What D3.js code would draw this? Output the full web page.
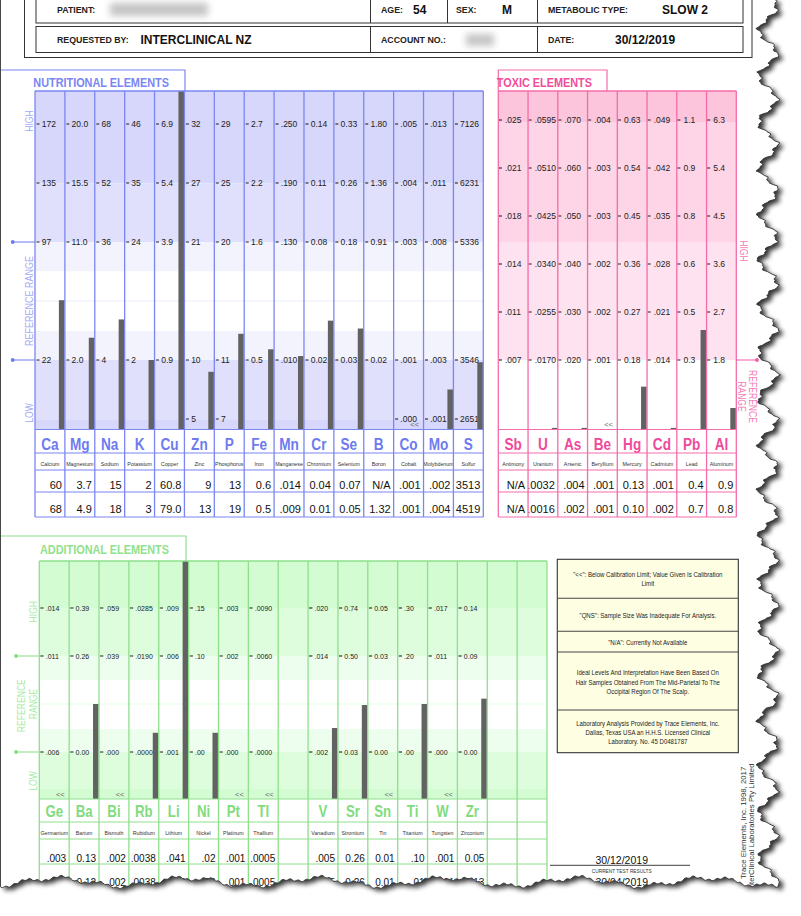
<!DOCTYPE html>
<html>
<head>
<meta charset="utf-8">
<title>Hair mineral analysis chart</title>
<script src="https://d3js.org/d3.v7.min.js"></script>
<style>
  body { margin: 0; background: #fff; }
  svg { display: block; font-family: "Liberation Sans", Arial, sans-serif; }
</style>
</head>
<body>
<svg width="801" height="916"></svg>
<script>
// ---------- data ----------
const headerLabels = ['PATIENT:', 'AGE:', 'SEX:', 'METABOLIC TYPE:', 'REQUESTED BY:', 'ACCOUNT NO.:', 'DATE:'];
const headerValues = ['', '54', 'M', 'SLOW 2', 'INTERCLINICAL NZ', '', '30/12/2019'];

const nutriSymbols = ['Ca','Mg','Na','K','Cu','Zn','P','Fe','Mn','Cr','Se','B','Co','Mo','S'];
const nutriNames = ['Calcium','Magnesium','Sodium','Potassium','Copper','Zinc','Phosphorus','Iron',
  'Manganese','Chromium','Selenium','Boron','Cobalt','Molybdenum','Sulfur'];
// labels from HIGH down to LOW
const nutriTicks = [
  ['172','135','97','22',''], ['20.0','15.5','11.0','2.0',''], ['68','52','36','4',''],
  ['46','35','24','2',''], ['6.9','5.4','3.9','0.9',''], ['32','27','21','10','5'],
  ['29','25','20','11','7'], ['2.7','2.2','1.6','0.5',''], ['.250','.190','.130','.010',''],
  ['0.14','0.11','0.08','0.02',''], ['0.33','0.26','0.18','0.03',''], ['1.80','1.36','0.91','0.02',''],
  ['.005','.004','.003','.001','.000'], ['.013','.011','.008','.003','.001'], ['7126','6231','5336','3546','2651']
];
const nutriCurrent = ['60','3.7','15','2','60.8','9','13','0.6','.014','0.04','0.07','N/A','.001','.002','3513'];
const nutriPrevious = ['68','4.9','18','3','79.0','13','19','0.5','.009','0.01','0.05','1.32','.001','.004','4519'];

const toxSymbols = ['Sb','U','As','Be','Hg','Cd','Pb','Al'];
const toxNames = ['Antimony','Uranium','Arsenic','Beryllium','Mercury','Cadmium','Lead','Aluminum'];
const toxTicks = [
  ['.025','.021','.018','.014','.011','.007'], ['.0595','.0510','.0425','.0340','.0255','.0170'],
  ['.070','.060','.050','.040','.030','.020'], ['.004','.003','.003','.002','.002','.001'],
  ['0.63','0.54','0.45','0.36','0.27','0.18'], ['.049','.042','.035','.028','.021','.014'],
  ['1.1','0.9','0.8','0.6','0.5','0.3'], ['6.3','5.4','4.5','3.6','2.7','1.8']
];
const toxCurrent = ['N/A','.0032','.004','.001','0.13','.001','0.4','0.9'];
const toxPrevious = ['N/A','.0016','.002','.001','0.10','.002','0.7','0.8'];

const addSymbols = ['Ge','Ba','Bi','Rb','Li','Ni','Pt','Tl','','V','Sr','Sn','Ti','W','Zr','',''];
const addNames = ['Germanium','Barium','Bismuth','Rubidium','Lithium','Nickel','Platinum','Thallium','',
  'Vanadium','Strontium','Tin','Titanium','Tungsten','Zirconium','',''];
const addTicks = [
  ['.014','.011','.006'], ['0.39','0.26','0.00'], ['.059','.039','.000'], ['.0285','.0190','.0000'],
  ['.009','.006','.001'], ['.15','.10','.00'], ['.003','.002','.000'], ['.0090','.0060','.0000'], [],
  ['.020','.014','.002'], ['0.74','0.50','0.03'], ['0.05','0.03','0.00'], ['.30','.20','.00'],
  ['.017','.011','.000'], ['0.14','0.09','0.00'], [], []
];
const addCurrent = ['.003','0.13','.002','.0038','.041','.02','.001','.0005','','.005','0.26','0.01','.10','.001','0.05','',''];
const addPrevious = ['.001','0.12','.002','.0038','.033','.02','.001','.0005','','.005','0.26','0.01','.01','.001','0.13','',''];

// elements reported below the calibration limit ("<<")
const belowLimit = ['Co','Be','Ge','Bi','Pt','Tl','Sn','W'];

const notes = [
  ['"<<": Below Calibration Limit; Value Given Is Calibration', 'Limit'],
  ['"QNS": Sample Size Was Inadequate For Analysis.'],
  ['"N/A": Currently Not Available'],
  ['Ideal Levels And Interpretation Have Been Based On', 'Hair Samples Obtained From The Mid-Parietal To The', 'Occipital Region Of The Scalp.'],
  ['Laboratory Analysis Provided by Trace Elements, Inc.', 'Dallas, Texas USA an H.H.S. Licensed Clinical', 'Laboratory. No. 45 D0481787']
];

// ---------- page, torn edges ----------
const svg = d3.select('svg');
const defs = svg.append('defs');
defs.append('filter').attr('id', 'blur').attr('x', '-50%').attr('y', '-100%').attr('width', '200%').attr('height', '300%')
  .append('feGaussianBlur').attr('stdDeviation', 3.5);
defs.append('filter').attr('id', 'shade').attr('x', '-10%').attr('y', '-10%').attr('width', '130%').attr('height', '130%')
  .append('feGaussianBlur').attr('stdDeviation', 2.8);

const TAU = Math.PI * 2;
const tearRight = y => 768 + 9 * Math.sin(TAU * y / 46 + 0.6) + 2.5 * Math.sin(TAU * y / 11 + 1.3) + 1.1 * Math.sin(TAU * y / 4.3 + 0.2);
const tearBottom = x => 882 + 4 * Math.sin(TAU * x / 130 + 2) + 2 * Math.sin(TAU * x / 37 + 0.4) + 0.9 * Math.sin(TAU * x / 7.9);
const edge = [[0.5, -6]];
for (let y = -6; y <= 883; y += 1.5) edge.push([tearRight(y), y]);
for (let x = tearRight(883); x >= 0.5; x -= 1.5) edge.push([x, tearBottom(x)]);
edge.push([0.5, tearBottom(0.5)]);
const pagePath = d3.line()(edge) + 'Z';

svg.append('path').attr('d', pagePath).attr('fill', '#000').attr('opacity', 0.8)
  .attr('filter', 'url(#shade)').attr('transform', 'translate(4,3)');
svg.append('path').attr('d', pagePath).attr('fill', '#fff');
defs.append('clipPath').attr('id', 'pageClip').append('path').attr('d', pagePath);
const page = svg.append('g').attr('clip-path', 'url(#pageClip)');

// text helper; sx < 1 gives the narrow face used on the report
function txt(g, x, y, s, o = {}) {
  let tr = `translate(${x},${y})`;
  if (o.rot) tr += ` rotate(${o.rot})`;
  if (o.sx) tr += ` scale(${o.sx},1)`;
  return g.append('text').attr('transform', tr)
    .attr('font-size', o.size || 9)
    .attr('font-weight', o.bold ? 'bold' : null)
    .attr('fill', o.fill || '#111')
    .attr('text-anchor', o.anchor || 'start')
    .text(s);
}

// ---------- header ----------
const hdr = page.append('g').attr('fill', 'none').attr('stroke', '#333');
hdr.append('rect').attr('x', 24.5).attr('y', -10).attr('width', 727.5).attr('height', 67.5);
hdr.append('rect').attr('x', 36).attr('y', -5).attr('width', 707).attr('height', 28);
hdr.append('rect').attr('x', 36).attr('y', 26.5).attr('width', 707).attr('height', 26);
[[370.5, -5, 23], [447.5, -5, 23], [537.5, -5, 23], [370.5, 26.5, 52.5], [537.5, 26.5, 52.5]].forEach(d =>
  hdr.append('line').attr('x1', d[0]).attr('x2', d[0]).attr('y1', d[1]).attr('y2', d[2]));

const labelX = [57, 381, 456, 548, 57, 381, 548];
const valueX = [106, 413, 502, 662, 140.5, 462, 615];
const blurW = [106, 0, 0, 0, 0, 36, 0];
headerLabels.forEach((lab, i) => {
  const row = i < 4 ? 0 : 1;
  txt(page, labelX[i], row ? 43 : 12.5, lab, { size: 8.8, bold: true, fill: '#222' });
  if (headerValues[i]) {
    txt(page, valueX[i], row ? 43.5 : 13.5, headerValues[i], { size: 12, bold: true, fill: '#111' });
  } else {
    page.append('rect').attr('x', valueX[i] + 4).attr('y', row ? 34 : 3).attr('width', blurW[i] - 8)
      .attr('height', row ? 12 : 13).attr('fill', '#c4c4c4').attr('filter', 'url(#blur)');
  }
});

// ---------- element panels ----------
function drawPanel(p) {
  const g = page.append('g');
  const n = p.symbols.length;
  const x = d3.scaleBand().domain(d3.range(n)).range([p.x0, p.x1]);
  const w = x.bandwidth();
  const levelY = d3.scaleLinear().domain([0, p.nLevels - 1]).range(p.levelRange);

  g.selectAll(null).data(p.bands).join('rect')
    .attr('x', p.x0).attr('width', p.x1 - p.x0)
    .attr('y', d => d[0]).attr('height', d => d[1] - d[0]).attr('fill', d => d[2]);
  if (p.faintLevel != null) {
    g.append('line').attr('x1', p.x0).attr('x2', p.x1)
      .attr('y1', levelY(p.faintLevel)).attr('y2', levelY(p.faintLevel))
      .attr('stroke', p.faint).attr('stroke-width', 1.6);
  }

  // per-column tick labels
  p.ticks.forEach((col, i) => col.forEach((lab, k) => {
    if (lab === '') return;
    const y = levelY(p.labelLevels[k]);
    g.append('line').attr('x1', x(i) + p.dash[0]).attr('x2', x(i) + p.dash[1])
      .attr('y1', y).attr('y2', y).attr('stroke', '#222').attr('stroke-width', 1.1);
    g.append('text').attr('x', x(i) + p.labelDx).attr('y', y).attr('dy', '0.36em')
      .attr('font-size', p.tickSize).attr('fill', '#222').text(lab);
  }));

  // bars: current result on each column's own scale
  p.current.forEach((s, i) => {
    const v = parseFloat(s);
    if (isNaN(v) || !p.symbols[i]) return;
    if (belowLimit.includes(p.symbols[i])) {
      txt(g, x(i) + 21, p.bottom - 2.5, '<<', { size: 7.5, fill: '#666', anchor: 'middle' });
      return;
    }
    const pts = p.ticks[i].map((lab, k) => [+lab, levelY(p.labelLevels[k]), lab]).filter(d => d[2] !== '');
    const use = p.endsOnly ? [pts[0], pts[pts.length - 1]] : pts;
    const yScale = d3.scaleLinear().domain(use.map(d => d[0])).range(use.map(d => d[1]));
    const yTop = Math.max(p.top, Math.min(p.bottom - 1.6, yScale(v)));
    g.append('rect').attr('x', x(i) + w - 6).attr('width', 5.6)
      .attr('y', yTop).attr('height', p.bottom - yTop).attr('fill', '#626262');
  });

  // element table
  p.symbols.forEach((s, i) => {
    const cx = x(i) + w / 2;
    if (s) txt(g, cx, p.symY, s, { size: p.symSize, bold: true, fill: p.symColor, anchor: 'middle', sx: 0.8 });
    if (p.names[i]) txt(g, cx, p.nameY, p.names[i], { size: 5.3, fill: '#333', anchor: 'middle' });
    if (p.current[i]) txt(g, x(i) + w - 3, p.val1Y, p.current[i], { size: p.valSize, anchor: 'end' });
    if (p.previous[i]) txt(g, x(i) + w - 3, p.val2Y, p.previous[i], { size: p.valSize, anchor: 'end' });
  });

  const lines = g.append('g').attr('stroke', p.line).attr('fill', 'none');
  d3.range(n + 1).forEach(i => {
    const xx = i < n ? x(i) : p.x1;
    lines.append('line').attr('x1', xx).attr('x2', xx).attr('y1', p.top).attr('y2', p.tableBottom)
      .attr('stroke-width', 1.3);
  });
  p.rowLines.forEach(y => lines.append('line').attr('x1', p.x0).attr('x2', p.x1).attr('y1', y).attr('y2', y));
  lines.append('line').attr('x1', p.x0).attr('x2', p.x1).attr('y1', p.top).attr('y2', p.top).attr('stroke-width', 1.3);
  lines.append('path').attr('d', p.titleBox).attr('stroke-width', 1.2);
  txt(g, p.titleX, p.titleY, p.title, { size: 13.6, bold: true, fill: p.titleColor, sx: 0.8 });
  return { levelY };
}

const blueBands = ['#d7d7fb', '#e0e0fc', '#f3f3fe'];
const nutri = drawPanel({
  symbols: nutriSymbols, names: nutriNames, ticks: nutriTicks, current: nutriCurrent, previous: nutriPrevious,
  x0: 35, x1: 483.3, top: 91, bottom: 429.5, tableBottom: 517,
  nLevels: 6, levelRange: [124, 419], labelLevels: [0, 1, 2, 4, 5], faintLevel: 3, faint: '#f2f2fd',
  bands: [[91, 183.5, blueBands[0]], [183.5, 242, blueBands[1]], [242, 271.5, blueBands[2]], [271.5, 331, '#fff'],
    [331, 360, blueBands[2]], [360, 420, blueBands[1]], [420, 429.5, blueBands[0]]],
  dash: [1.5, 4.5], labelDx: 6.7, tickSize: 8.5,
  rowLines: [429.5, 453, 470, 492, 517], symY: 449.5, nameY: 466, val1Y: 489, val2Y: 512.5,
  symSize: 17, valSize: 11, symColor: '#6e7bef', line: '#7b86f2',
  titleBox: 'M0,70H185V91', title: 'NUTRITIONAL  ELEMENTS', titleX: 33.3, titleY: 86.5, titleColor: '#7a86f3'
});

const tox = drawPanel({
  symbols: toxSymbols, names: toxNames, ticks: toxTicks, current: toxCurrent, previous: toxPrevious,
  x0: 498.3, x1: 736.3, top: 91, bottom: 429.5, tableBottom: 517, endsOnly: true,
  nLevels: 6, levelRange: [120, 360], labelLevels: [0, 1, 2, 3, 4, 5],
  bands: [[91, 122, '#fcc5db'], [122, 242, '#fdd5e7'], [242, 360, '#fee2ef'], [360, 429.5, '#fff']],
  dash: [0.4, 3.6], labelDx: 6.7, tickSize: 8.5,
  rowLines: [429.5, 453, 470, 492, 517], symY: 449.5, nameY: 466, val1Y: 489, val2Y: 512.5,
  symSize: 17, valSize: 11, symColor: '#ef4a9b', line: '#f46ca9',
  titleBox: 'M498.3,91V70H607V91', title: 'TOXIC  ELEMENTS', titleX: 496.8, titleY: 86.5, titleColor: '#f04d9c'
});

const greenBands = ['#d3fcd3', '#ddfddd', '#eefeee'];
const add = drawPanel({
  symbols: addSymbols, names: addNames, ticks: addTicks, current: addCurrent, previous: addPrevious,
  x0: 39.3, x1: 547, top: 561, bottom: 799, tableBottom: 905,
  nLevels: 4, levelRange: [608, 752], labelLevels: [0, 1, 3], faintLevel: 2, faint: '#effeef',
  bands: [[561, 608, greenBands[0]], [608, 656, greenBands[1]], [656, 680, greenBands[2]], [680, 729, '#fff'],
    [729, 752, greenBands[2]], [752, 789, greenBands[1]], [789, 799, greenBands[0]]],
  dash: [1, 4.3], labelDx: 6.4, tickSize: 7,
  rowLines: [799, 822, 839, 864, 889], symY: 817, nameY: 835, val1Y: 861.5, val2Y: 886,
  symSize: 16.5, valSize: 10, symColor: '#80dc7d', line: '#8ee08b',
  titleBox: 'M0,536H186V561', title: 'ADDITIONAL  ELEMENTS', titleX: 40, titleY: 554, titleColor: '#90e28c'
});

// ---------- range captions and markers ----------
function marker(x1, x2, y, dotX, color) {
  page.append('line').attr('x1', x1).attr('x2', x2).attr('y1', y).attr('y2', y).attr('stroke', color).attr('stroke-width', 1.2);
  page.append('circle').attr('cx', dotX).attr('cy', y).attr('r', 1.9).attr('fill', color);
}
const cap = { size: 10.5, sx: 0.82, anchor: 'middle' };
const nb = '#a2aaf6';
marker(12.7, 35, nutri.levelY(2), 12.7, '#6d7cf0');
marker(12.7, 35, nutri.levelY(4), 12.7, '#6d7cf0');
txt(page, 32.8, 121, 'HIGH', { ...cap, rot: -90, fill: nb });
txt(page, 33, nutri.levelY(3), 'REFERENCE RANGE', { ...cap, size: 11, rot: -90, fill: nb });
txt(page, 32.8, 413, 'LOW', { ...cap, rot: -90, fill: nb });

const pk = '#f57cb6';
marker(736.3, 757, tox.levelY(5), 757, '#f25aa3');
txt(page, 740, 251, 'HIGH', { ...cap, rot: 90, fill: pk });
txt(page, 749.3, 396.5, 'REFERENCE', { ...cap, rot: 90, fill: pk });
txt(page, 738.3, 396.5, 'RANGE', { ...cap, rot: 90, fill: pk });

const gn = '#a6eba3';
marker(16, 39.3, add.levelY(1), 16, '#86dd83');
marker(16, 39.3, add.levelY(3), 16, '#86dd83');
txt(page, 36.7, 611.7, 'HIGH', { ...cap, rot: -90, fill: gn });
txt(page, 24.7, 705.7, 'REFERENCE', { ...cap, rot: -90, fill: gn });
txt(page, 36.7, 704, 'RANGE', { ...cap, rot: -90, fill: gn });
txt(page, 36.7, 781, 'LOW', { ...cap, rot: -90, fill: gn });

// ---------- notes box ----------
const nbox = page.append('g');
nbox.append('rect').attr('x', 557.3).attr('y', 559.3).attr('width', 181).attr('height', 193.4)
  .attr('fill', '#fefee2').attr('stroke', '#333').attr('stroke-width', 1.1);
[598.3, 631.3, 652, 710].forEach(y =>
  nbox.append('line').attr('x1', 557.3).attr('x2', 738.3).attr('y1', y).attr('y2', y).attr('stroke', '#444').attr('stroke-width', 1.1));
const noteY = [[574.3, 583], [615], [642.3], [672.7, 682, 691.3], [723.3, 732.3, 741.7]];
notes.forEach((block, b) => block.forEach((line, k) =>
  txt(nbox, 647.8, noteY[b][k] + 2.6, line, { size: 7.4, sx: 0.82, anchor: 'middle', fill: '#222' })));

// ---------- footer ----------
txt(page, 621.7, 864, '30/12/2019', { size: 10.5, anchor: 'middle', fill: '#111' });
page.append('line').attr('x1', 550).attr('x2', 690).attr('y1', 865.3).attr('y2', 865.3).attr('stroke', '#666').attr('stroke-width', 1.3);
txt(page, 621.7, 872.6, 'CURRENT TEST RESULTS', { size: 4.8, anchor: 'middle', fill: '#333' });
txt(page, 621.7, 886, '30/04/2019', { size: 10.5, anchor: 'middle', fill: '#111' });
txt(page, 745.7, 766.7, 'Trace Elements, Inc. 1998, 2017', { size: 7.8, rot: -90, anchor: 'end', fill: '#333' });
txt(page, 754, 763.5, 'InterClinical Laboratories Pty Limited', { size: 7.8, rot: -90, anchor: 'end', fill: '#333' });

// page outline on top
svg.append('path').attr('d', pagePath).attr('fill', 'none').attr('stroke', '#333').attr('stroke-width', 0.9);
</script>
</body>
</html>
